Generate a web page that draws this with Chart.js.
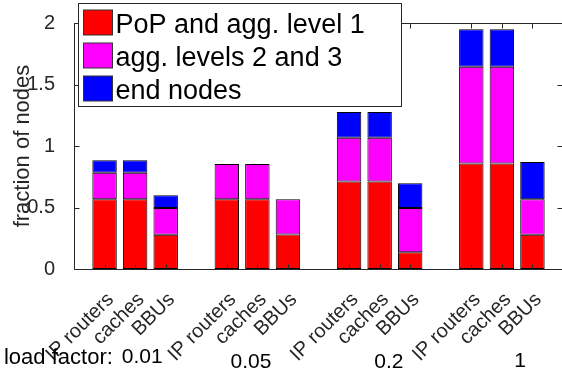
<!DOCTYPE html>
<html><head><meta charset="utf-8">
<script src="https://cdn.jsdelivr.net/npm/chart.js@4"></script>
<style>html,body{margin:0;padding:0;overflow:hidden;background:#fff}</style>
</head><body>
<canvas id="c" width="563" height="378"></canvas>
<script>
// ---- data ----
const loadFactors = ['0.01', '0.05', '0.2', '1'];
const nodeTypes = ['IP routers', 'caches', 'BBUs'];
// values per (load factor, node type), in order 0.01 x3, 0.05 x3, 0.2 x3, 1 x3
const popAggLevel1 = [0.568, 0.568, 0.279, 0.568, 0.568, 0.280, 0.712, 0.712, 0.137, 0.857, 0.857, 0.279];
const aggLevels23  = [0.214, 0.214, 0.217, 0.286, 0.286, 0.288, 0.356, 0.356, 0.358, 0.787, 0.787, 0.289];
const endNodes     = [0.102, 0.102, 0.104, 0.000, 0.000, 0.000, 0.209, 0.209, 0.202, 0.305, 0.305, 0.302];
const seriesNames = ['PoP and agg. level 1', 'agg. levels 2 and 3', 'end nodes'];
const seriesColors = ['#ff0000', '#ff00ff', '#0000ff'];
const yTickValues = [0, 0.5, 1, 1.5, 2];
const loadLabel = 'load factor:';

// ---- build category slots: gap, 3 bars, gap, 3 bars, ... gap ----
const labels = [''];
loadFactors.forEach(() => { nodeTypes.forEach(t => labels.push(t)); labels.push(''); });
function toSlots(arr) {
  const out = [null];
  loadFactors.forEach((_, g) => { nodeTypes.forEach((_, k) => out.push(arr[g * nodeTypes.length + k])); out.push(null); });
  return out;
}
const seriesData = [popAggLevel1, aggLevels23, endNodes];

const TXT = '#262626';
const FONT = 'Liberation Sans, Arial, Helvetica, sans-serif';

const framePlugin = {
  id: 'frame',
  afterDatasetsDraw(chart) {
    const {ctx, chartArea: a, scales: {x, y}} = chart;
    ctx.save();
    ctx.strokeStyle = TXT; ctx.lineWidth = 1;
    const L = a.left + 0.5, R = a.right - 0.5, T = a.top + 0.5, B = a.bottom + 0.5;
    ctx.beginPath();
    ctx.moveTo(L, T); ctx.lineTo(R, T); ctx.moveTo(L, B); ctx.lineTo(R, B);
    ctx.moveTo(L, T); ctx.lineTo(L, B); ctx.moveTo(R, T); ctx.lineTo(R, B);
    y.ticks.forEach(t => {
      const py = Math.round(y.getPixelForValue(t.value)) + 0.5;
      ctx.moveTo(L, py); ctx.lineTo(L + 5, py);
      ctx.moveTo(R, py); ctx.lineTo(R - 5, py);
    });
    labels.forEach((lab, i) => {
      if (!lab) return;
      const px = Math.round(x.getPixelForValue(i)) + 0.5;
      ctx.moveTo(px, B); ctx.lineTo(px, B - 5);
      ctx.moveTo(px, T); ctx.lineTo(px, T + 5);
    });
    ctx.stroke();
    ctx.restore();
  },
  afterDraw(chart) {
    const {ctx, chartArea: a, scales: {x}} = chart;
    ctx.save();
    // legend
    const lx = a.left + 4.5, ly = 3.5, lw = 323, lh = 103;
    ctx.fillStyle = '#fff'; ctx.fillRect(lx, ly, lw, lh);
    ctx.strokeStyle = TXT; ctx.lineWidth = 1; ctx.strokeRect(lx, ly, lw, lh);
    ctx.font = '27px ' + FONT; ctx.textBaseline = 'alphabetic'; ctx.textAlign = 'left';
    chart.data.datasets.forEach((ds, i) => {
      const top = ly + 6.5 + i * 33;
      ctx.fillStyle = ds.backgroundColor; ctx.fillRect(lx + 5, top, 29, 25);
      ctx.strokeStyle = '#333'; ctx.strokeRect(lx + 5, top, 29, 25);
      ctx.fillStyle = '#000'; ctx.fillText(ds.label, lx + 37, ly + 29.5 + i * 33);
    });
    // load factor annotations
    ctx.fillStyle = '#000'; ctx.textBaseline = 'middle';
    ctx.font = '22px ' + FONT; ctx.textAlign = 'right';
    ctx.fillText(loadLabel, x.getPixelForValue(1.27), 358);
    ctx.font = '21px ' + FONT; ctx.textAlign = 'center';
    const offs = [2.23, 5.79, 10.3, 14.6];
    const ys = [357, 362, 362, 361];
    loadFactors.forEach((lf, g) => ctx.fillText(lf, x.getPixelForValue(offs[g]), ys[g]));
    ctx.restore();
  }
};

new Chart(document.getElementById('c'), {
  type: 'bar',
  data: {
    labels,
    datasets: seriesData.map((arr, i) => ({
      label: seriesNames[i],
      data: toSlots(arr),
      backgroundColor: seriesColors[i],
      borderColor: '#000',
      borderWidth: 1,
      borderSkipped: false,
      barPercentage: 0.8,
      categoryPercentage: 1.0
    }))
  },
  options: {
    responsive: false,
    animation: false,
    devicePixelRatio: 1,
    layout: {padding: {top: 20, right: 0, left: 0, bottom: 0}},
    plugins: {legend: {display: false}, tooltip: {enabled: false}},
    scales: {
      x: {
        type: 'category', stacked: true, offset: false,
        grid: {display: false}, border: {display: false},
        ticks: {autoSkip: false, minRotation: 45, maxRotation: 45, color: TXT,
                font: {family: FONT, size: 20}, padding: 11, labelOffset: 6},
        afterFit: s => { s.height = 109; s.paddingLeft = 0; s.paddingRight = 0; }
      },
      y: {
        stacked: true, min: 0, max: 2,
        grid: {display: false}, border: {display: false},
        afterBuildTicks: s => { s.ticks = yTickValues.map(v => ({value: v})); },
        ticks: {color: TXT, font: {family: FONT, size: 20}, padding: 11,
                callback: v => String(v)},
        title: {display: true, text: 'fraction of nodes', color: TXT,
                font: {family: FONT, size: 22}, padding: {top: 10, bottom: 0}},
        afterFit: s => { s.width = 74; }
      }
    }
  },
  plugins: [framePlugin]
});
</script>
</body></html>
